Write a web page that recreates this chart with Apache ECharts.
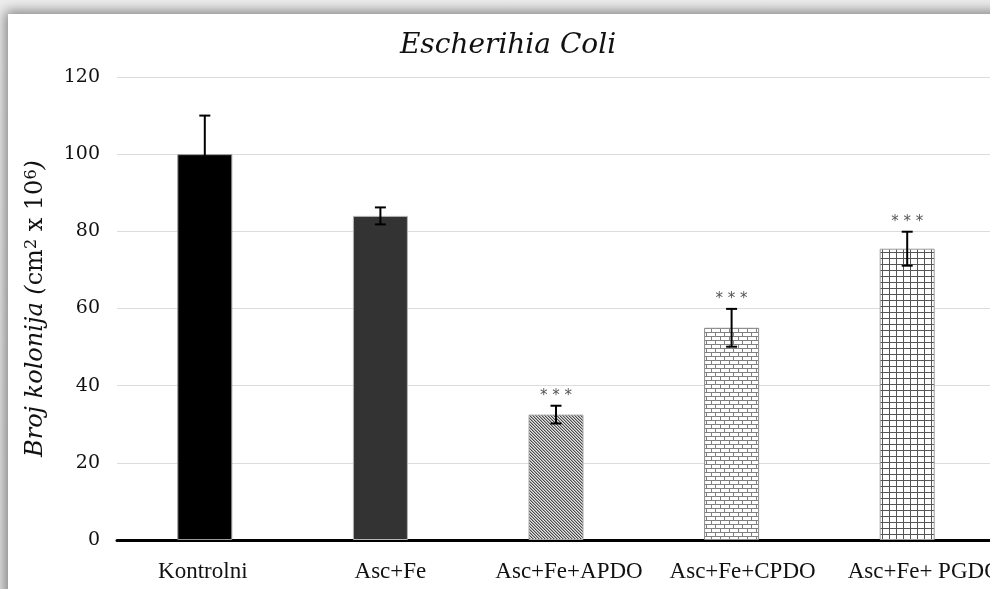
<!DOCTYPE html>
<html>
<head>
<meta charset="utf-8">
<script src="https://cdn.jsdelivr.net/npm/echarts@6/dist/echarts.min.js"></script>
<style>
  html, body { margin: 0; padding: 0; background: #f2f2f2; overflow: hidden; }
  #wrap { position: relative; width: 990px; height: 589px; overflow: hidden; background: linear-gradient(#eeeeee, #e4e4e4); }
  #panel { position: absolute; left: 8px; top: 14px; width: 1100px; height: 700px; background: #ffffff; box-shadow: -2px -2px 12px 1px rgba(0,0,0,0.45); }
  #chart { position: absolute; left: 0; top: 0; width: 990px; height: 589px; }
</style>
</head>
<body>
<div id="wrap">
  <div id="panel"></div>
  <div id="chart"></div>
</div>
<script>
// ---- data ----
const categories = ['Kontrolni', 'Asc+Fe', 'Asc+Fe+APDO', 'Asc+Fe+CPDO', 'Asc+Fe+ PGDO'];
const means = [100, 84, 32.5, 55, 75.5];
const errors = [10, 2.2, 2.3, 4.9, 4.4];
const significance = ['', '', '***', '***', '***'];
const yMin = 0, yMax = 120, yStep = 20;
const titleText = 'Escherihia Coli';

// ---- patterns ----
function makeTile(w, h, painter) {
  const c = document.createElement('canvas');
  c.width = w; c.height = h;
  const ctx = c.getContext('2d');
  painter(ctx, w, h);
  return c;
}
const diagTile = makeTile(3, 3, (ctx, w, h) => {
  for (let y = 0; y < h; y++) for (let x = 0; x < w; x++) {
    const d = ((x - y) % 3 + 3) % 3;
    ctx.fillStyle = d === 0 ? '#4a4a4a' : (d === 1 ? '#a8a8a8' : '#e4e4e4');
    ctx.fillRect(x, y, 1, 1);
  }
});
const brickTile = makeTile(18, 8, (ctx, w, h) => {
  ctx.fillStyle = '#ffffff'; ctx.fillRect(0, 0, w, h);
  ctx.fillStyle = '#808080';
  ctx.fillRect(0, 0, w, 1);
  ctx.fillRect(0, 4, w, 1);
  ctx.fillRect(0, 1, 1, 3);
  ctx.fillRect(9, 1, 1, 3);
  ctx.fillRect(4, 5, 1, 3);
  ctx.fillRect(13, 5, 1, 3);
});
const gridTile = makeTile(7, 6, (ctx, w, h) => {
  ctx.fillStyle = '#ffffff'; ctx.fillRect(0, 0, w, h);
  ctx.fillStyle = '#555555';
  ctx.fillRect(0, 0, w, 1);
  ctx.fillRect(0, 0, 1, h);
});
const barStyles = [
  { color: '#000000', borderColor: '#9a9a9a', borderWidth: 1 },
  { color: '#333333', borderColor: '#b5b5b5', borderWidth: 1 },
  { color: { image: diagTile, repeat: 'repeat' }, borderColor: '#a8a8a8', borderWidth: 1 },
  { color: { image: brickTile, repeat: 'repeat' }, borderColor: '#8a8a8a', borderWidth: 1 },
  { color: { image: gridTile, repeat: 'repeat' }, borderColor: '#9a9a9a', borderWidth: 1 }
];
// horizontal nudge of category labels (style only)
const labelShift = [-2, 10, 13, 11, 17];

const serif = '"DejaVu Serif", "Liberation Serif", serif';
const lserif = '"Liberation Serif", "DejaVu Serif", serif';

const labelRich = {};
labelShift.forEach((s, i) => {
  labelRich['l' + i] = {
    fontFamily: lserif, fontSize: 23, color: '#111111',
    padding: s >= 0 ? [0, 0, 0, 2 * s] : [0, -2 * s, 0, 0]
  };
});

const chart = echarts.init(document.getElementById('chart'), null, { renderer: 'canvas' });
chart.setOption({
  backgroundColor: 'transparent',
  animation: false,
  title: {
    text: titleText,
    left: 503,
    top: 27,
    textAlign: 'center',
    textStyle: { fontFamily: serif, fontStyle: 'italic', fontWeight: 'normal', fontSize: 28, color: '#111111' }
  },
  grid: { left: 117, right: -5, top: 77, bottom: 49, containLabel: false, outerBoundsMode: 'none' },
  xAxis: {
    type: 'category',
    data: categories,
    axisLine: { show: true, lineStyle: { color: '#000', width: 3 } },
    axisTick: { show: false },
    axisLabel: {
      interval: 0, margin: 20, fontFamily: lserif, fontSize: 23, color: '#111111',
      formatter: (v, i) => '{l' + i + '|' + v + '}',
      rich: labelRich
    },
    splitLine: { show: false }
  },
  yAxis: {
    type: 'value',
    min: yMin, max: yMax, interval: yStep,
    axisLine: { show: false },
    axisTick: { show: false },
    axisLabel: { margin: 17, fontFamily: serif, fontSize: 19, color: '#111111' },
    splitLine: { show: true, lineStyle: { color: '#dcdcdc', width: 1 } },
    name: '{i|Broj kolonija (}{n|cm}{s|2}{n| x 10}{s|6}{i|)}',
    nameLocation: 'middle',
    nameGap: 69,
    nameTextStyle: {
      fontFamily: serif, fontSize: 24, color: '#111111',
      rich: {
        i: { fontFamily: serif, fontSize: 24, fontStyle: 'italic', color: '#111111' },
        n: { fontFamily: serif, fontSize: 24, color: '#111111' },
        s: { fontFamily: serif, fontSize: 16, color: '#111111', verticalAlign: 'top' }
      }
    }
  },
  series: [
    {
      type: 'bar',
      barWidth: 55,
      data: means.map((v, i) => ({ value: v, itemStyle: barStyles[i] })),
      z: 2
    },
    {
      type: 'custom',
      z: 5,
      data: means.map((v, i) => [i, v, errors[i]]),
      renderItem: function (params, api) {
        const x = api.value(0), m = api.value(1), e = api.value(2);
        const top = api.coord([x, m + e]);
        const bot = api.coord([x, m - e]);
        const half = 5.5;
        const st = { stroke: '#000000', lineWidth: 2 };
        const children = [
          { type: 'line', shape: { x1: top[0], y1: top[1], x2: bot[0], y2: bot[1] }, style: st },
          { type: 'line', shape: { x1: top[0] - half, y1: top[1], x2: top[0] + half, y2: top[1] }, style: st },
          { type: 'line', shape: { x1: bot[0] - half, y1: bot[1], x2: bot[0] + half, y2: bot[1] }, style: st }
        ];
        const sig = significance[params.dataIndex];
        if (sig) {
          children.push({
            type: 'text',
            style: {
              text: sig.split('').join(' '),
              x: top[0], y: top[1] - 10,
              align: 'center', verticalAlign: 'middle',
              fontFamily: '"DejaVu Sans", sans-serif', fontSize: 15, fill: '#555555'
            }
          });
        }
        return { type: 'group', children: children };
      }
    }
  ]
});
</script>
</body>
</html>
